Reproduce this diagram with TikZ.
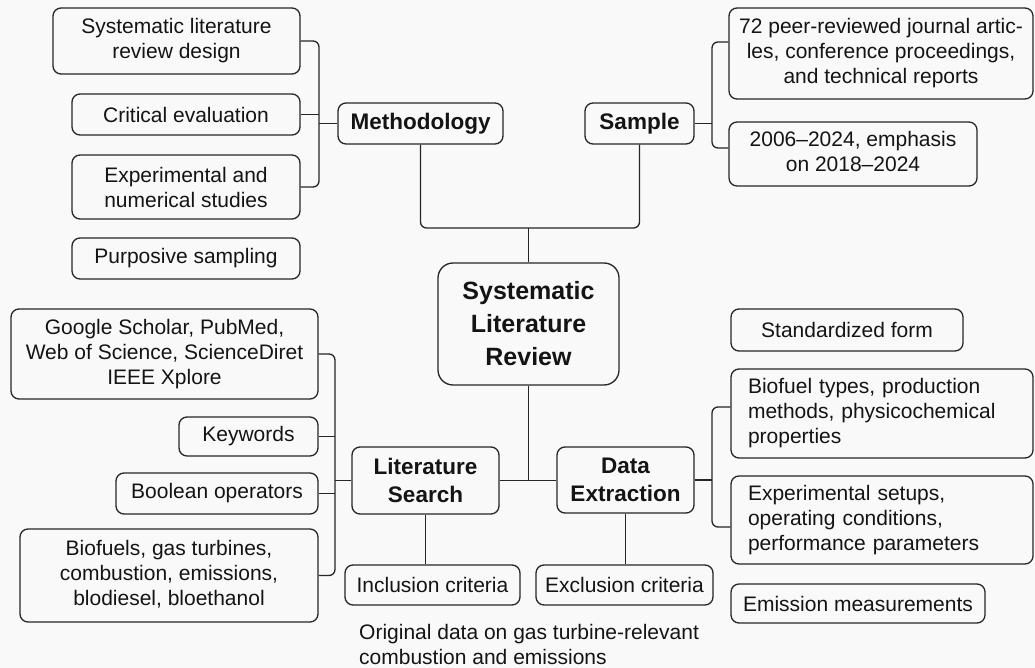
\documentclass[tikz,border=0pt]{standalone}
\usepackage{fontspec}
\setmainfont{Liberation Sans}
\usetikzlibrary{calc}
\definecolor{ink}{HTML}{141414}
\definecolor{linec}{HTML}{262626}
\definecolor{bgc}{HTML}{F9F9F9}
\newcommand\regfs{\fontsize{21}{25}\selectfont}
\newcommand\midfs{\fontsize{22.5}{28}\selectfont\bfseries}
\newcommand\bigfs{\fontsize{25}{33}\selectfont\bfseries}
\tikzset{
  basebox/.style={draw=linec, line width=1.3pt, rounded corners=8pt, text=ink, inner sep=2pt},
  cbox/.style={basebox, align=center, font=\regfs},
  lbox/.style={basebox, align=left, font=\regfs, text width=268pt, inner xsep=17pt},
  tbox/.style={basebox, font=\regfs},
  headbox/.style={basebox, align=center, font=\midfs},
  corebox/.style={basebox, align=center, font=\bigfs, rounded corners=15pt},
  conn/.style={draw=linec, line width=1.3pt, rounded corners=6pt},
}
\begin{document}
\begin{tikzpicture}[x=1pt,y=-1pt]
\fill[bgc] (0,0) rectangle (1035,668);
\useasboundingbox (0,0) rectangle (1035,668);

% Methodology branch
\node[cbox, minimum width=247pt, minimum height=66pt] (m1) at (176.5,41) {Systematic literature\\review design};
\node[cbox, minimum width=228pt, minimum height=41pt] (m2) at (186,114.5) {Critical evaluation};
\node[cbox, minimum width=228pt, minimum height=64pt] (m3) at (186,187) {Experimental and\\numerical studies};
\node[cbox, minimum width=228pt, minimum height=41pt] (m4) at (186,258.5) {Purposive sampling};
\node[headbox, minimum width=165pt, minimum height=41pt] (meth) at (420.5,123.5) {Methodology};

% Sample branch
\node[headbox, minimum width=109pt, minimum height=41pt] (samp) at (639.5,123.5) {Sample};
\node[cbox, minimum width=304pt, minimum height=91pt] (s1) at (881,53.5) {72 peer-reviewed journal artic-\\les, conference proceedings,\\and technical reports};
\node[tbox, minimum width=248pt, minimum height=64pt] (s2) at (853,154) {\begin{tabular}{@{}c@{}}2006–2024, emphasis\\on 2018–2024\end{tabular}\hspace{22pt}};

% Core
\node[corebox, minimum width=181pt, minimum height=122pt] (core) at (528.5,324) {Systematic\\Literature\\Review};

% Literature search branch
\node[cbox, minimum width=307pt, minimum height=90pt] (g1) at (164.5,354) {Google Scholar, PubMed,\\Web of Science, ScienceDiret\\IEEE Xplore};
\node[cbox, minimum width=139pt, minimum height=39pt] (g2) at (248.5,436.5) {Keywords};
\node[cbox, minimum width=202pt, minimum height=41pt] (g3) at (217,493.5) {Boolean operators};
\node[tbox, minimum width=298pt, minimum height=93pt] (g4) at (169,575.5) {\begin{tabular}{@{}c@{}}Biofuels, gas turbines,\\combustion, emissions,\\blodiesel, bloethanol\end{tabular}\hspace{21pt}};
\node[headbox, minimum width=147pt, minimum height=67pt] (ls) at (425.5,480.5) {Literature\\Search};
\node[cbox, minimum width=175pt, minimum height=40pt] (inc) at (432.5,585) {Inclusion criteria};
\node[font=\regfs, text=ink, align=left, anchor=north west, inner sep=0pt] (note) at (359,624) {Original data on gas turbine-relevant\\combustion and emissions};

% Data extraction branch
\node[headbox, minimum width=137pt, minimum height=66pt] (de) at (625.5,480) {Data\\Extraction};
\node[cbox, minimum width=177pt, minimum height=40pt] (exc) at (624.5,585) {Exclusion criteria};
\node[cbox, minimum width=232pt, minimum height=42pt] (d1) at (847,330) {Standardized form};
\node[lbox, minimum height=89pt] (d2) at (882,413.5) {Biofuel types, production\\methods, physicochemical\\properties};
\node[lbox, minimum height=88pt] (d3) at (882,520) {Experimental setups,\\operating conditions,\\performance parameters};
\node[cbox, minimum width=254pt, minimum height=39pt] (d4) at (858,603.5) {Emission measurements};

% bracket coordinates
\coordinate (mx) at (319,114.5);
\coordinate (sx) at (712,123.5);
\coordinate (lx) at (335,480.5);
\coordinate (dx) at (712,480);
\coordinate (top) at (528.5,228);

% Methodology connectors
\draw[conn] (m1.east) -| (mx) |- (m3.east);
\draw[conn] (m2.east) -- (m2.east -| mx);
\draw[conn] (meth.west) -- (meth.west -| mx);

% Sample connectors
\draw[conn] ([yshift=11.5pt]s1.west) -| (sx) |- ([yshift=6pt]s2.west);
\draw[conn] (samp.east) -- (samp.east -| sx);

% top join
\draw[conn] (meth.south) |- (top) -| (samp.south);
\draw[conn] (top) -- (core.north);

% bottom join
\draw[conn] (ls.east) -- (ls.east -| de.west);
\draw[conn] (core.south) -- (core.south |- ls.east);
\draw[conn] (ls.south) -- (ls.south |- inc.north);
\draw[conn] (de.south) -- (de.south |- exc.north);

% Literature search connectors
\draw[conn] (g1.east) -| (lx) |- (g4.east);
\draw[conn] (g2.east) -- (g2.east -| lx);
\draw[conn] (g3.east) -- (g3.east -| lx);
\draw[conn] (ls.west) -- (ls.west -| lx);

% Data extraction connectors
\draw[conn] ([yshift=6.5pt]d2.west) -| (dx) |- ([yshift=-7pt]d3.west);
\draw[conn] (de.east) -- (de.east -| dx);
\end{tikzpicture}
\end{document}
